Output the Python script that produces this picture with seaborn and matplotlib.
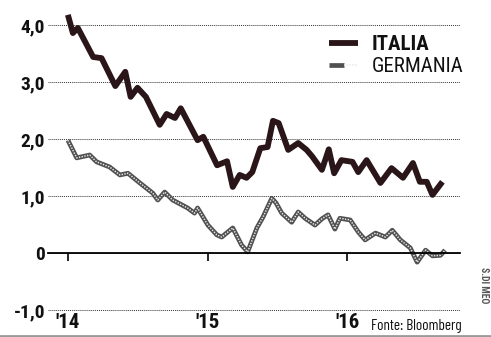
import matplotlib
matplotlib.use("Agg")
import matplotlib.pyplot as plt
import seaborn as sns
import pandas as pd
from matplotlib import font_manager
from matplotlib.legend_handler import HandlerTuple
from matplotlib.lines import Line2D

# ---------------- data ----------------
italia_dates = [
    "2014-01-01", "2014-01-14", "2014-01-27", "2014-03-08", "2014-03-30",
    "2014-05-05", "2014-05-31", "2014-06-14", "2014-07-02", "2014-07-24",
    "2014-08-29", "2014-09-16", "2014-10-08", "2014-10-23", "2014-12-06",
    "2014-12-21", "2015-01-26", "2015-02-21", "2015-03-08", "2015-03-26",
    "2015-04-13", "2015-04-28", "2015-05-19", "2015-06-07", "2015-06-21",
    "2015-07-06", "2015-07-31", "2015-08-26", "2015-09-17", "2015-10-01",
    "2015-10-27", "2015-11-14", "2015-11-28", "2015-12-17", "2016-01-15",
    "2016-01-30", "2016-02-21", "2016-03-28", "2016-04-26", "2016-05-26",
    "2016-06-21", "2016-07-09", "2016-07-27", "2016-08-11", "2016-09-06",
]
italia_values = [
    4.18, 3.86, 3.95, 3.44, 3.42,
    2.93, 3.18, 2.74, 2.90, 2.74,
    2.25, 2.44, 2.37, 2.54, 1.98,
    2.04, 1.54, 1.61, 1.16, 1.37,
    1.32, 1.42, 1.84, 1.86, 2.32,
    2.28, 1.81, 1.93, 1.81, 1.70,
    1.46, 1.82, 1.40, 1.63, 1.60,
    1.42, 1.63, 1.23, 1.49, 1.32,
    1.58, 1.25, 1.25, 1.02, 1.25,
]

germania_dates = [
    "2014-01-01", "2014-01-24", "2014-02-27", "2014-03-17", "2014-04-20",
    "2014-05-17", "2014-06-07", "2014-07-08", "2014-08-11", "2014-08-24",
    "2014-09-11", "2014-10-02", "2014-11-10", "2014-11-28", "2014-12-06",
    "2015-01-02", "2015-01-25", "2015-02-07", "2015-03-08", "2015-03-31",
    "2015-04-16", "2015-05-10", "2015-05-26", "2015-06-18", "2015-06-29",
    "2015-07-14", "2015-08-09", "2015-08-26", "2015-09-13", "2015-10-09",
    "2015-10-27", "2015-11-12", "2015-11-30", "2015-12-13", "2016-01-09",
    "2016-01-30", "2016-02-17", "2016-03-15", "2016-04-10", "2016-04-28",
    "2016-05-19", "2016-06-14", "2016-07-02", "2016-07-24", "2016-08-11",
    "2016-09-01", "2016-09-13",
]
germania_values = [
    1.98, 1.67, 1.72, 1.60, 1.51,
    1.37, 1.40, 1.23, 1.05, 0.93,
    1.07, 0.93, 0.79, 0.70, 0.79,
    0.49, 0.32, 0.28, 0.44, 0.14,
    0.02, 0.44, 0.63, 0.96, 0.88,
    0.70, 0.54, 0.72, 0.61, 0.49,
    0.60, 0.67, 0.42, 0.61, 0.58,
    0.37, 0.23, 0.35, 0.28, 0.40,
    0.23, 0.09, -0.16, 0.05, -0.05,
    -0.04, 0.05,
]

series_labels = ["ITALIA", "GERMANIA"]
y_ticks = [-1, 0, 1, 2, 3, 4]
y_tick_labels = ["-1,0", "0", "1,0", "2,0", "3,0", "4,0"]
x_ticks = ["2014-01-01", "2015-01-01", "2016-01-01"]
x_tick_labels = ["'14", "'15", "'16"]
source_text = "Fonte: Bloomberg"
credit_text = "S.DI MEO"

# ---------------- style ----------------
sns.set_theme(style="white")
names = {f.name for f in font_manager.fontManager.ttflist}


def pick(*cands):
    for c in cands:
        if c in names:
            return c
    return "DejaVu Sans"


COND = pick("Roboto Condensed", "Archivo Narrow", "Barlow Condensed", "Liberation Sans Narrow")
XCOND = pick("Barlow Condensed", "Roboto Condensed", "Archivo Narrow")
plt.rcParams["font.family"] = [COND, "DejaVu Sans"]

W, H = 491, 337
fig = plt.figure(figsize=(W / 100, H / 100), dpi=100)
fig.patch.set_facecolor("white")
ax = fig.add_axes([48 / W, (H - 312) / H, 412 / W, 304 / H])
ax.set_facecolor("white")

df_it = pd.DataFrame({"date": pd.to_datetime(italia_dates), "value": italia_values})
df_de = pd.DataFrame({"date": pd.to_datetime(germania_dates), "value": germania_values})

ITALIA_COLOR = "#2a1518"
sns.lineplot(data=df_de, x="date", y="value", ax=ax, color="#505050", lw=3.4,
             solid_joinstyle="round", solid_capstyle="butt")
sns.lineplot(data=df_de, x="date", y="value", ax=ax, color="#e8e8e8", lw=1.1,
             linestyle=(0, (0.9, 0.9)))
sns.lineplot(data=df_it, x="date", y="value", ax=ax, color=ITALIA_COLOR, lw=4.2,
             solid_joinstyle="round", solid_capstyle="butt")
de_dark, de_dots, it_line = ax.lines[0], ax.lines[1], ax.lines[2]

ax.set_ylim(-1.035, 4.30)
ax.set_xlim(pd.Timestamp("2013-11-10"), pd.Timestamp("2016-10-22"))

ax.set_xlabel("")
ax.set_ylabel("")
for s in ["top", "right", "left"]:
    ax.spines[s].set_visible(False)
ax.spines["bottom"].set_position(("data", 0))
ax.spines["bottom"].set_color("black")
ax.spines["bottom"].set_linewidth(1.3)

ax.set_yticks(y_ticks)
ax.set_yticklabels(y_tick_labels, fontsize=14, fontweight="heavy", color="#111")
ax.set_xticks(pd.to_datetime(x_ticks))
ax.set_xticklabels(x_tick_labels, fontsize=15, fontweight="heavy", color="#111")
ax.tick_params(axis="y", length=0, pad=2)
ax.tick_params(axis="x", direction="out", length=6, width=1.2, color="black",
               pad=37, bottom=True)
ax.grid(axis="y", linestyle=(0, (1, 1)), color="#333333", lw=0.7)
ax.grid(axis="x", visible=False)

leg = ax.legend(
    handles=[it_line, (de_dark, de_dots)], labels=series_labels,
    handler_map={tuple: HandlerTuple(ndivide=None, pad=0)},
    loc="upper left", bbox_to_anchor=(329 / W, 1 - 35 / H),
    bbox_transform=fig.transFigure, frameon=False, fontsize=15,
    handlelength=1.4, handletextpad=0.65, labelspacing=0.15,
    borderpad=0, borderaxespad=0,
)
leg.get_texts()[0].set_fontweight("bold")
for t in leg.get_texts():
    t.set_color("#111")

fig.text(462 / W, 1 - 326 / H, source_text, ha="right", va="center",
         fontsize=11, color="#111", family=[XCOND, "DejaVu Sans"])
fig.text(484 / W, 1 - 285 / H, credit_text, ha="center", va="center",
         rotation=-90, fontsize=7, color="#555", fontweight="bold")
fig.add_artist(Line2D([0, 1], [1.5 / H, 1.5 / H], transform=fig.transFigure,
                      color="#9a9a9a", lw=2))

fig.savefig("out.png", dpi=100, facecolor="white")
